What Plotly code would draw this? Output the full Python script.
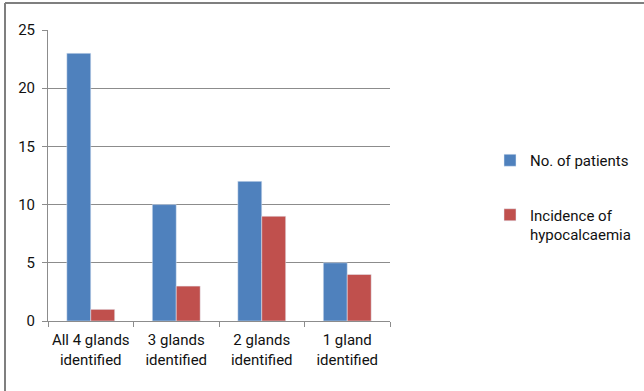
import plotly.graph_objects as go

categories = ["All 4 glands<br>identified", "3 glands<br>identified",
              "2 glands<br>identified", "1 gland<br>identified"]
patients = [23, 10, 12, 5]
hypocalcaemia = [1, 3, 9, 4]
y_ticks = [0, 5, 10, 15, 20, 25]

W, H = 644, 391
L, R, T, B = 48, 254, 30, 70
pw, ph = W - L - R, H - T - B

def px_x(x):
    return (x - L) / pw

def px_y(y):
    return (H - B - y) / ph

font = "Roboto, 'Open Sans', Arial, sans-serif"
grid = "#8c8c8c"

fig = go.Figure()
fig.add_trace(go.Bar(x=categories, y=patients, name="No. of patients",
                     marker_color="#4F81BD", legendgroup="a"))
fig.add_trace(go.Bar(x=categories, y=hypocalcaemia,
                     name="Incidence of<br>hypocalcaemia",
                     marker_color="#C0504D", legendgroup="b"))

fig.update_layout(
    width=W, height=H,
    margin=dict(l=L, r=R, t=T, b=B, autoexpand=False),
    plot_bgcolor="white", paper_bgcolor="white",
    barmode="group", bargap=0.44, bargroupgap=0,
    font=dict(family=font, size=15, color="#111111"),
    xaxis=dict(tickson="boundaries", ticks="outside", ticklen=5,
               tickcolor=grid, showline=True, linecolor=grid, linewidth=1,
               showgrid=False, tickfont=dict(size=15), tickangle=0,
               ticklabelstandoff=5),
    yaxis=dict(range=[0, 25], tickvals=y_ticks, ticks="outside", ticklen=5,
               tickcolor=grid, showline=True, linecolor=grid, linewidth=1,
               showgrid=True, gridcolor=grid, gridwidth=1, zeroline=False,
               tickfont=dict(size=15), ticklabelstandoff=4),
    legend=dict(x=px_x(490), y=px_y(144), xanchor="left", yanchor="top",
                font=dict(size=15), tracegroupgap=32, valign="top",
                itemwidth=30),
    shapes=[
        dict(type="line", xref="paper", yref="paper",
             x0=px_x(5), x1=px_x(W), y0=px_y(3), y1=px_y(3),
             line=dict(color="#7f7f7f", width=2)),
        dict(type="line", xref="paper", yref="paper",
             x0=px_x(5), x1=px_x(5), y0=px_y(3), y1=px_y(H),
             line=dict(color="#7f7f7f", width=2)),
    ],
)

fig.write_html("out.html")
